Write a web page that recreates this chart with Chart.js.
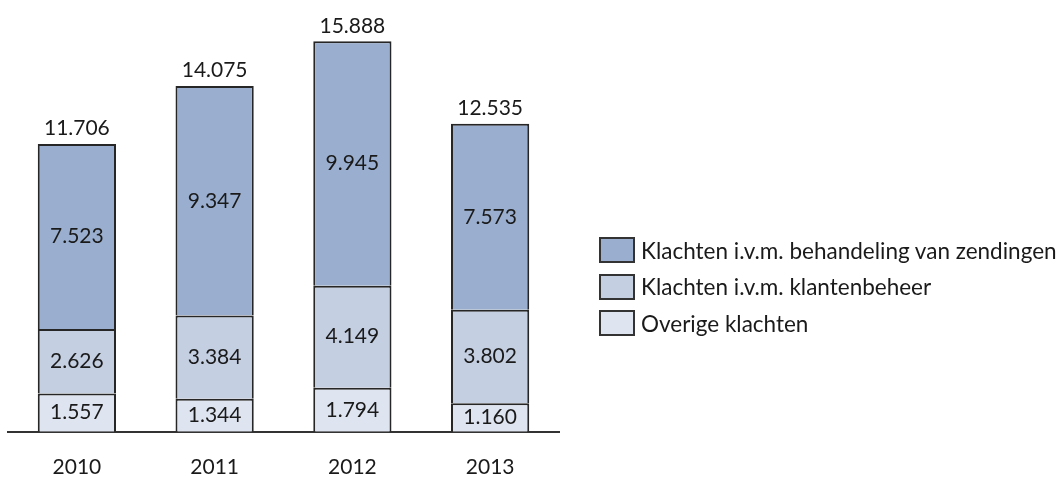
<!DOCTYPE html>
<html>
<head>
<meta charset="utf-8">
<script src="https://cdn.jsdelivr.net/npm/chart.js@4/dist/chart.umd.min.js"></script>
<style>
  body { margin: 0; background: #fff; }
  #wrap { position: relative; width: 1060px; height: 479px; overflow: hidden; }
  #legend { position: absolute; left: 599px; top: 232px; font-family: Lato, sans-serif; font-size: 22.5px; color: #1a1a1a; }
  .row { display: flex; align-items: center; height: 36.5px; white-space: nowrap; }
  .box { width: 32px; height: 22px; border: 2px solid #333; margin-right: 6px; box-sizing: content-box; }
</style>
</head>
<body>
<div id="wrap">
  <canvas id="chart1" width="1060" height="479"></canvas>
  <div id="legend"></div>
</div>
<script>
const years = ["2010", "2011", "2012", "2013"];
const overige = [1557, 1344, 1794, 1160];
const klantenbeheer = [2626, 3384, 4149, 3802];
const zendingen = [7523, 9347, 9945, 7573];
const totals = [11706, 14075, 15888, 12535];

const labelNames = [
  "Overige klachten",
  "Klachten i.v.m. klantenbeheer",
  "Klachten i.v.m. behandeling  van zendingen",
];
const colors = ["#dfe5f0", "#c4cfe2", "#9aafcf"];

const fmt = function (n) {
  return n.toLocaleString("nl-NL");
};

const valueLabels = {
  id: "valueLabels",
  afterDatasetsDraw(chart) {
    const ctx = chart.ctx;
    ctx.save();
    ctx.font = "21px Lato";
    ctx.fillStyle = "#1a1a1a";
    ctx.textAlign = "center";
    ctx.textBaseline = "middle";
    chart.data.datasets.forEach((ds, i) => {
      const meta = chart.getDatasetMeta(i);
      meta.data.forEach((bar, j) => {
        ctx.fillText(fmt(ds.data[j]), bar.x, (bar.y + bar.base) / 2);
      });
    });
    const top = chart.getDatasetMeta(chart.data.datasets.length - 1);
    top.data.forEach((bar, j) => {
      ctx.textBaseline = "bottom";
      ctx.fillText(fmt(totals[j]), bar.x, bar.y - 5);
    });
    ctx.restore();
  },
};

const datasets = [overige, klantenbeheer, zendingen].map((d, i) => ({
  label: labelNames[i],
  data: d,
  backgroundColor: colors[i],
  borderColor: "#262626",
  borderWidth: 2,
  borderSkipped: "start",
  categoryPercentage: 1,
  barPercentage: 0.568,
}));

const chart = new Chart(document.getElementById("chart1"), {
  type: "bar",
  data: { labels: years, datasets: datasets },
  options: {
    responsive: false,
    animation: false,
    layout: { padding: { left: 8, right: 501, top: 14, bottom: -24 } },
    plugins: { legend: { display: false }, tooltip: { enabled: false } },
    scales: {
      x: {
        stacked: true,
        grid: { display: false, drawTicks: false },
        border: { display: true, color: "#333", width: 2 },
        ticks: { color: "#1a1a1a", font: { family: "Lato", size: 21 }, padding: 23 },
      },
      y: {
        stacked: true,
        display: false,
        min: 0,
        max: 17000,
      },
    },
  },
  plugins: [valueLabels],
});

const legend = document.getElementById("legend");
for (let i = datasets.length - 1; i >= 0; i--) {
  const row = document.createElement("div");
  row.className = "row";
  row.innerHTML = '<span class="box" style="background:' + colors[i] + '"></span><span>' + labelNames[i] + "</span>";
  legend.appendChild(row);
}
</script>
</body>
</html>
